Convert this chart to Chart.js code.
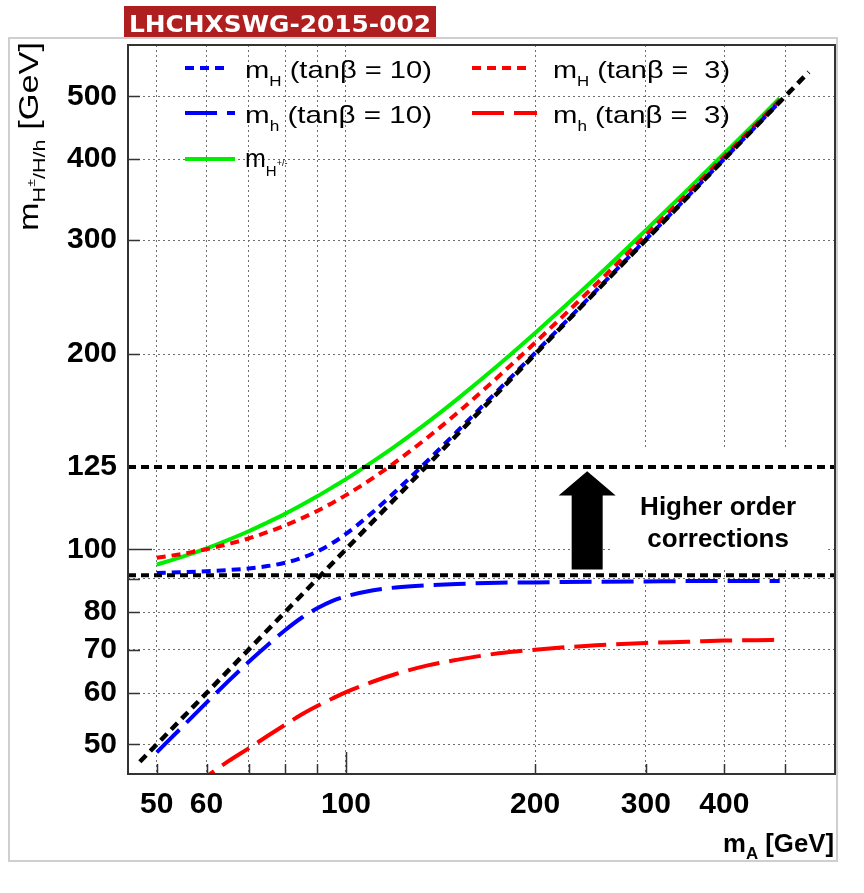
<!DOCTYPE html>
<html>
<head>
<meta charset="utf-8">
<script src="https://cdn.jsdelivr.net/npm/chart.js@4.4.1/dist/chart.umd.min.js"></script>
<style>
  html, body { margin: 0; padding: 0; background: #fff; }
</style>
</head>
<body>
<canvas id="masses" width="864" height="893"></canvas>
<script>
// pseudoscalar mass m_A [GeV] where the curves were read
const mA = [50, 55, 60, 65, 70, 75, 80, 85, 90, 95, 100, 110, 120, 135, 150, 175, 200, 250, 300, 350, 400, 450, 490];

const mHeavyTb10 = [91.9, 92.2, 92.5, 92.9, 93.4, 94.2, 95.3, 97.0, 99.2, 102.1, 105.6, 113.8, 122.9, 137.1, 151.7, 176.3, 201.0, 250.7, 300.6, 350.5, 400.4, 450.4, 490.3];
const mLightTb10 = [48.6, 53.3, 58.0, 62.6, 67.0, 71.1, 75.0, 78.4, 81.1, 83.2, 84.6, 86.4, 87.3, 88.0, 88.4, 88.8, 88.9, 89.1, 89.2, 89.3, 89.3, 89.3, 89.3];
const mHeavyTb3 = [97.0, 98.4, 100.0, 101.9, 103.9, 106.3, 108.8, 111.6, 114.6, 117.8, 121.2, 128.5, 136.4, 148.9, 162.0, 184.9, 208.4, 256.4, 305.3, 354.4, 403.9, 453.4, 493.1];
const mLightTb3 = [38.5, 41.8, 44.6, 47.1, 49.3, 51.5, 53.6, 55.6, 57.3, 58.8, 60.2, 62.4, 64.2, 66.2, 67.5, 69.1, 70.0, 71.1, 71.7, 72.0, 72.3, 72.4, 72.5];
const mCharged = [94.7, 97.4, 100.3, 103.4, 106.6, 110.0, 113.4, 117.0, 120.7, 124.5, 128.3, 136.3, 144.4, 157.1, 170.2, 192.6, 215.6, 262.6, 310.6, 359.1, 408.0, 457.1, 496.6];

// reference lines
const diagonalX = [47, 545];       // m = m_A
const hLineX = [45, 600];
const mZLine = 91.2;
const higgsLine = 134;             // the line the plot labels "125"

const xRange = [45, 600];
const yRange = [45, 600];
const xTicks = [50, 60, 70, 80, 90, 100, 200, 300, 400, 500];
const xTickLabels = { 50: '50', 60: '60', 100: '100', 200: '200', 300: '300', 400: '400' };
const yTicks = [50, 60, 70, 80, 90, 100, 134, 200, 300, 400, 500];
const yTickLabels = { 50: '50', 60: '60', 70: '70', 80: '80', 100: '100', 134: '125', 200: '200', 300: '300', 400: '400', 500: '500' };

// "Higher order corrections" arrow, in data coordinates
const arrowMA = 242;
const arrowFrom = 93.1;
const arrowHead = 121;
const arrowTo = 132;
const noteMA = 391;
const noteBox = { x: [265, 585], y: [93.5, 143] };

const SANS = "'Liberation Sans', Arial, sans-serif";
const SHORT = [9, 6];
const LONG = [32, 10];

function pts(xs, ys) {
  return xs.map((x, i) => ({ x: x, y: ys[i] }));
}

function curve(label, xs, ys, color, dash, width) {
  return {
    label: label,
    data: pts(xs, ys),
    borderColor: color,
    borderWidth: width || 4,
    borderDash: dash,
    pointRadius: 0,
    fill: false,
    cubicInterpolationMode: 'monotone',
    clip: 0,
  };
}

// text made of pieces (for sub/superscripts), optionally stretched to a width
function rich(ctx, parts, x, y, width, rotate) {
  ctx.save();
  ctx.translate(x, y);
  if (rotate) ctx.rotate(-Math.PI / 2);
  let total = 0;
  for (const p of parts) {
    ctx.font = (p[3] ? 'bold ' : '') + p[1] + 'px ' + SANS;
    total += ctx.measureText(p[0]).width;
  }
  if (width) ctx.scale(width / total, 1);
  ctx.textAlign = 'left';
  ctx.textBaseline = 'alphabetic';
  let cx = 0;
  for (const p of parts) {
    ctx.font = (p[3] ? 'bold ' : '') + p[1] + 'px ' + SANS;
    ctx.fillText(p[0], cx, p[2]);
    cx += ctx.measureText(p[0]).width;
  }
  ctx.restore();
}

function sample(ctx, x1, x2, y, color, dash) {
  ctx.save();
  ctx.strokeStyle = color;
  ctx.lineWidth = 4;
  ctx.setLineDash(dash);
  ctx.beginPath();
  ctx.moveTo(x1, y);
  ctx.lineTo(x2, y);
  ctx.stroke();
  ctx.restore();
}

const decor = {
  id: 'decor',
  beforeDraw(chart) {
    const ctx = chart.ctx;
    ctx.save();
    ctx.fillStyle = '#fff';
    ctx.fillRect(0, 0, chart.width, chart.height);
    ctx.strokeStyle = '#cfcfcf';
    ctx.lineWidth = 2;
    ctx.strokeRect(9, 38, 828, 823);
    ctx.fillStyle = '#b01f1f';
    ctx.fillRect(124, 6, 312, 31);
    ctx.fillStyle = '#fff';
    ctx.font = "bold 23px 'DejaVu Sans', sans-serif";
    const w = ctx.measureText('LHCHXSWG-2015-002').width;
    ctx.translate(129, 32);
    ctx.scale(302 / w, 1);
    ctx.fillText('LHCHXSWG-2015-002', 0, 0);
    ctx.restore();
  },
  beforeDatasetsDraw(chart) {
    const ctx = chart.ctx;
    const xs = chart.scales.x;
    const ys = chart.scales.y;
    ctx.save();
    ctx.fillStyle = '#fff';
    const bx = xs.getPixelForValue(noteBox.x[0]);
    const by = ys.getPixelForValue(noteBox.y[1]);
    ctx.fillRect(bx, by, xs.getPixelForValue(noteBox.x[1]) - bx, ys.getPixelForValue(noteBox.y[0]) - by);
    ctx.restore();
  },
  afterDatasetsDraw(chart) {
    const ctx = chart.ctx;
    const a = chart.chartArea;
    const xs = chart.scales.x;
    const ys = chart.scales.y;
    ctx.save();

    // inward tick marks
    ctx.strokeStyle = '#333';
    ctx.lineWidth = 1.5;
    ctx.beginPath();
    for (const v of xTicks) {
      const px = Math.round(xs.getPixelForValue(v)) + 0.5;
      ctx.moveTo(px, a.bottom);
      ctx.lineTo(px, a.bottom - (v === 100 ? 22 : 10));
    }
    for (const v of yTicks) {
      if (v === higgsLine) continue;
      const py = Math.round(ys.getPixelForValue(v)) + 0.5;
      ctx.moveTo(a.left, py);
      ctx.lineTo(a.left + (v === 100 ? 24 : 12), py);
    }
    ctx.stroke();

    // frame
    ctx.strokeStyle = '#333';
    ctx.lineWidth = 2;
    ctx.strokeRect(a.left, a.top, a.right - a.left, a.bottom - a.top);

    // arrow
    const cx = xs.getPixelForValue(arrowMA);
    const yb = ys.getPixelForValue(arrowFrom);
    const yh = ys.getPixelForValue(arrowHead);
    const yt = ys.getPixelForValue(arrowTo);
    ctx.fillStyle = '#000';
    ctx.beginPath();
    ctx.moveTo(cx - 15.5, yb);
    ctx.lineTo(cx - 15.5, yh);
    ctx.lineTo(cx - 28.5, yh);
    ctx.lineTo(cx, yt);
    ctx.lineTo(cx + 28.5, yh);
    ctx.lineTo(cx + 15.5, yh);
    ctx.lineTo(cx + 15.5, yb);
    ctx.closePath();
    ctx.fill();

    ctx.font = 'bold 26px ' + SANS;
    ctx.textAlign = 'center';
    ctx.textBaseline = 'alphabetic';
    const nx = xs.getPixelForValue(noteMA);
    ctx.fillText('Higher order', nx, 515);
    ctx.fillText('corrections', nx, 547);

    // legend
    ctx.fillStyle = '#000';
    sample(ctx, 185, 228, 68, '#0000ff', SHORT);
    rich(ctx, [['m', 24, 0], ['H', 14, 8], [' (tan\u03b2 = 10)', 24, 0]], 245, 78, 187);
    sample(ctx, 185, 235, 113, '#0000ff', LONG);
    rich(ctx, [['m', 24, 0], ['h', 14, 8], [' (tan\u03b2 = 10)', 24, 0]], 245, 123, 187);
    sample(ctx, 185, 235, 159, '#00ee00', []);
    rich(ctx, [['m', 25, 0], ['H', 15, 9], ['+/-', 9, -1]], 245, 167);
    sample(ctx, 472, 530, 68, '#ff0000', SHORT);
    rich(ctx, [['m', 24, 0], ['H', 14, 8], [' (tan\u03b2 =  3)', 24, 0]], 553, 78, 177);
    sample(ctx, 472, 537, 113, '#ff0000', LONG);
    rich(ctx, [['m', 24, 0], ['h', 14, 8], [' (tan\u03b2 =  3)', 24, 0]], 553, 123, 177);

    // axis titles
    rich(ctx, [['m', 26, 0, true], ['A', 17, 7, true], [' [GeV]', 26, 0, true]], 834 - 111, 852, 111);
    rich(ctx, [['m', 27, 0], ['H', 17, 7], ['\u00b1', 11, -3], ['/H/h', 17, 7], [' [GeV]', 27, 0]], 38, 231, 189, true);
    ctx.restore();
  },
};

const tickFont = { family: SANS, size: 30, weight: 'bold' };
const gridColor = '#6f6f6f';

new Chart(document.getElementById('masses'), {
  type: 'line',
  data: {
    datasets: [
      curve('m = 125 line', hLineX, [higgsLine, higgsLine], '#000', [8, 5]),
      curve('m_Z line', hLineX, [mZLine, mZLine], '#000', [8, 5]),
      curve('m = m_A', diagonalX, diagonalX, '#000', SHORT, 4.5),
      curve('m_H (tanb = 10)', mA, mHeavyTb10, '#0000ff', SHORT),
      curve('m_h (tanb = 10)', mA, mLightTb10, '#0000ff', LONG),
      curve('m_H (tanb = 3)', mA, mHeavyTb3, '#ff0000', SHORT),
      curve('m_h (tanb = 3)', mA, mLightTb3, '#ff0000', LONG),
      curve('m_H+-', mA, mCharged, '#00ee00', []),
    ],
  },
  options: {
    responsive: false,
    animation: false,
    devicePixelRatio: 1,
    layout: { padding: { left: 0, top: 45, right: 29, bottom: 0 } },
    plugins: { legend: { display: false }, tooltip: { enabled: false } },
    scales: {
      x: {
        type: 'logarithmic',
        min: xRange[0],
        max: xRange[1],
        afterBuildTicks: (s) => { s.ticks = xTicks.map((v) => ({ value: v })); },
        afterFit: (s) => { s.height = 119; },
        ticks: {
          autoSkip: false,
          maxRotation: 0,
          padding: 13,
          color: '#000',
          font: tickFont,
          callback: (v) => xTickLabels[v] || '',
        },
        grid: { color: gridColor, lineWidth: 1, drawTicks: false },
        border: { display: false, dash: [2, 3] },
      },
      y: {
        type: 'logarithmic',
        min: yRange[0],
        max: yRange[1],
        afterBuildTicks: (s) => { s.ticks = yTicks.map((v) => ({ value: v })); },
        afterFit: (s) => { s.width = 128; },
        ticks: {
          autoSkip: false,
          padding: 11,
          color: '#000',
          font: tickFont,
          callback: (v) => yTickLabels[v] || '',
        },
        grid: {
          color: (c) => (c.tick && c.tick.value === higgsLine ? 'rgba(0,0,0,0)' : gridColor),
          lineWidth: 1,
          drawTicks: false,
        },
        border: { display: false, dash: [2, 3] },
      },
    },
  },
  plugins: [decor],
});
</script>
</body>
</html>
